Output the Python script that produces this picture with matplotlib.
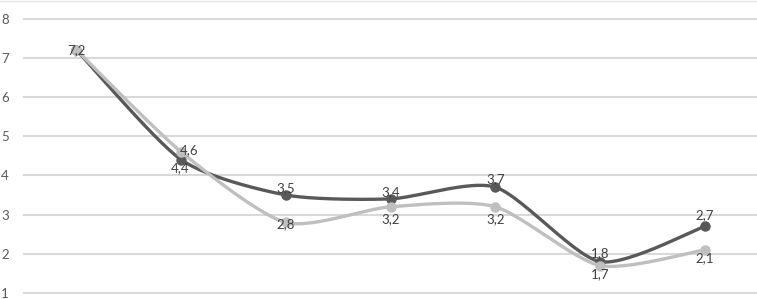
import numpy as np
import matplotlib
matplotlib.use('Agg')
import matplotlib.pyplot as plt

# Daten
kategorien = [1, 2, 3, 4, 5, 6, 7]
serie_dunkel = [7.2, 4.4, 3.5, 3.4, 3.7, 1.8, 2.7]
serie_hell = [7.2, 4.6, 2.8, 3.2, 3.2, 1.7, 2.1]
y_ticks = [1, 2, 3, 4, 5, 6, 7, 8]

# Label-Versatz in Punkten (dx, dy)
offs_dunkel = [(0, 0), (-1, -6), (0, 5), (0, 5), (0, 6), (0, 6), (0, 8)]
offs_hell = [None, (6, 1), (0, -1), (0, -9), (0, -9), (0, -6), (0, -6)]

FARBE_DUNKEL = '#595959'
FARBE_HELL = '#bfbfbf'


# Glättung ähnlich Excel (Bezier mit Kontrollpunkten aus den Nachbarn)
def glatt(x, y, k=0.12, n=30):
    x = np.asarray(x, float)
    y = np.asarray(y, float)
    px = np.concatenate([[x[0]], x, [x[-1]]])
    py = np.concatenate([[y[0]], y, [y[-1]]])
    xs, ys = [], []
    t = np.linspace(0, 1, n)
    for i in range(1, len(px) - 2):
        p0 = np.array([px[i], py[i]])
        p3 = np.array([px[i + 1], py[i + 1]])
        c1 = p0 + (np.array([px[i + 1], py[i + 1]]) - np.array([px[i - 1], py[i - 1]])) * k
        c2 = p3 - (np.array([px[i + 2], py[i + 2]]) - np.array([px[i], py[i]])) * k
        b = ((1 - t) ** 3)[:, None] * p0 + (3 * (1 - t) ** 2 * t)[:, None] * c1 \
            + (3 * (1 - t) * t ** 2)[:, None] * c2 + (t ** 3)[:, None] * p3
        xs.extend(b[:, 0])
        ys.extend(b[:, 1])
    return np.array(xs), np.array(ys)


plt.rcParams['font.family'] = ['Lato', 'DejaVu Sans']

fig = plt.figure(figsize=(7.57, 2.99), dpi=100)
# dünne Rahmenlinie oben
fig.add_artist(plt.Line2D([0, 1], [0.997, 0.997], color='#e3e3e3', lw=1,
                          transform=fig.transFigure))
ax = fig.add_axes([24 / 757, 6 / 299, 733 / 757, 274.5 / 299])

x = np.arange(len(kategorien))

for yt in y_ticks:
    ax.axhline(yt, color='#d9d9d9', lw=1.5, zorder=0, clip_on=False)

for werte, farbe, z in [(serie_dunkel, FARBE_DUNKEL, 3), (serie_hell, FARBE_HELL, 4)]:
    gx, gy = glatt(x, werte)
    ax.plot(gx, gy, color=farbe, lw=2.4, solid_capstyle='round', zorder=z)
    ax.plot(x, werte, 'o', color=farbe, ms=6.5, zorder=z)

for i, v in enumerate(serie_dunkel):
    ax.annotate(f'{v:.1f}'.replace('.', ','), (x[i], v), xytext=offs_dunkel[i],
                textcoords='offset points', ha='center', va='center',
                fontsize=9.5, color='#404040', zorder=6)
for i, v in enumerate(serie_hell):
    if offs_hell[i] is None:
        continue
    ax.annotate(f'{v:.1f}'.replace('.', ','), (x[i], v), xytext=offs_hell[i],
                textcoords='offset points', ha='center', va='center',
                fontsize=9.5, color='#404040', zorder=6)

ax.set_xlim(-0.5, 6.5)
ax.set_ylim(1, 8)
ax.set_yticks(y_ticks)
ax.set_xticks([])
ax.tick_params(axis='y', length=0, pad=11, labelsize=9.5, labelcolor='#595959')
for s in ax.spines.values():
    s.set_visible(False)

fig.savefig('out.png', dpi=100)
